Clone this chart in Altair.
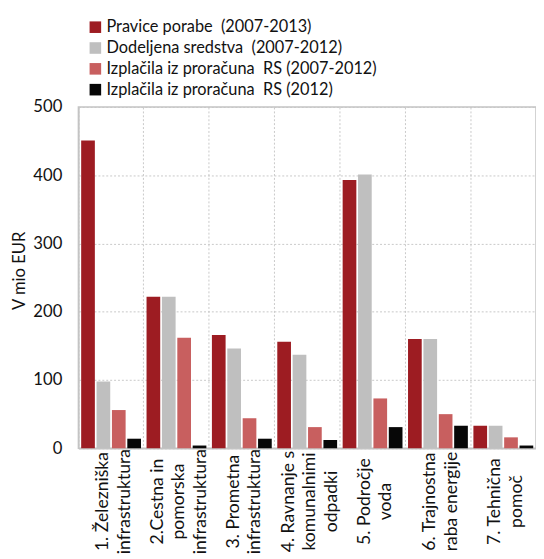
import altair as alt
import pandas as pd

categories = [
    "1. Železniška|infrastruktura",
    "2.Cestna in|pomorska|infrastruktura",
    "3. Prometna|infrastruktura",
    "4. Ravnanje s|komunalnimi|odpadki",
    "5. Področje|voda",
    "6. Trajnostna|raba energije",
    "7. Tehnična|pomoč",
]
series = [
    "Pravice porabe \u00a0(2007-2013)",
    "Dodeljena sredstva \u00a0(2007-2012)",
    "Izplačila iz proračuna \u00a0RS (2007-2012)",
    "Izplačila iz proračuna \u00a0RS (2012)",
]
pravice = [451, 222, 166, 156, 393, 160, 33]
dodeljena = [98, 222, 146, 137, 401, 160, 33]
izplacila_0712 = [56, 162, 44, 31, 73, 50, 16]
izplacila_12 = [14, 4, 14, 12, 31, 33, 4]
colors = ["#9d1c22", "#bfbfbf", "#c85f5f", "#070707"]

rows = []
for vals, s in zip([pravice, dodeljena, izplacila_0712, izplacila_12], series):
    for c, v in zip(categories, vals):
        rows.append({"cat": c, "series": s, "value": v})
df = pd.DataFrame(rows)

FONT = "Lato"
LH = 22

chart = alt.Chart(df).mark_bar().encode(
    x=alt.X("cat:N", sort=categories, title=None,
            scale=alt.Scale(paddingInner=0, paddingOuter=0),
            axis=alt.Axis(labelAngle=270, labelExpr="split(datum.label, '|')",
                          labelAlign="center", labelBaseline="middle",
                          labelPadding=54, labelLineHeight=LH,
                          labelOffset={"condition": {"test": "length(split(datum.value, '|')) == 3",
                                                     "value": -LH + 3},
                                       "value": -LH / 2 + 3},
                          labelFontSize=18, labelFont=FONT, labelColor="#111",
                          ticks=False, grid=True, bandPosition=0,
                          gridDash=[2, 2], gridColor="#c8c8c8",
                          domainColor="#c4c4c4", domainWidth=1.5,
                          labelLimit=300)),
    xOffset=alt.XOffset("series:N", sort=series,
                        scale=alt.Scale(paddingInner=0.11, paddingOuter=0.18)),
    y=alt.Y("value:Q", title="V mio EUR",
            scale=alt.Scale(domain=[0, 500], nice=False),
            axis=alt.Axis(values=[0, 100, 200, 300, 400, 500], ticks=False,
                          labelPadding=17, labelFontSize=17, labelFont=FONT,
                          labelColor="#111", titleFont=FONT, titleFontSize=17,
                          titleFontWeight="normal", titleColor="#111",
                          titlePadding=5, titleY=167,
                          gridDash=[2, 2], gridColor="#c8c8c8",
                          domainColor="#c4c4c4", domainWidth=1.5)),
    color=alt.Color("series:N", sort=series,
                    scale=alt.Scale(domain=series, range=colors),
                    legend=alt.Legend(title=None, orient="none", legendX=9, legendY=-90,
                                      symbolType="square", symbolSize=140,
                                      symbolStrokeWidth=0, labelFont=FONT,
                                      labelFontSize=16.7, labelColor="#111",
                                      labelOffset=3, rowPadding=3.3, padding=0,
                                      labelLimit=400)),
).properties(
    width=468, height=349,
    padding={"left": 2, "top": 5, "right": 0, "bottom": 0},
).configure_view(
    stroke="#c4c4c4", strokeWidth=1.5
)

chart.save("out.html", embed_options={"renderer": "svg", "actions": False})
